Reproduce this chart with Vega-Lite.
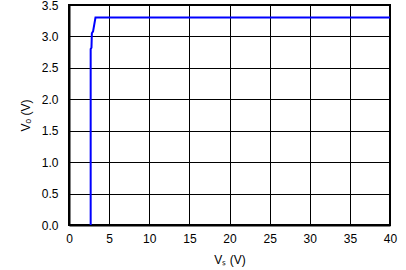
{
  "$schema": "https://vega.github.io/schema/vega-lite/v6.json",
  "width": 321,
  "height": 220,
  "autosize": "none",
  "padding": {"left": 69, "top": 5, "right": 16, "bottom": 45},
  "background": "white",
  "config": {
    "view": {"stroke": "black", "strokeWidth": 2},
    "axis": {
      "labelFont": "Liberation Sans",
      "titleFont": "Liberation Sans",
      "labelFontSize": 12,
      "titleFontSize": 12,
      "labelColor": "black",
      "titleColor": "black",
      "titleFontWeight": "normal",
      "gridColor": "black",
      "gridOpacity": 1,
      "gridWidth": 1,
      "domainColor": "black",
      "domainWidth": 2,
      "ticks": false,
      "labelFlush": false
    }
  },
  "data": {
    "values": [
      {"vs": 2.7, "vo": 0},
      {"vs": 2.7, "vo": 2.8},
      {"vs": 2.8, "vo": 2.82},
      {"vs": 2.85, "vo": 3.05},
      {"vs": 3.0, "vo": 3.08},
      {"vs": 3.3, "vo": 3.3},
      {"vs": 40, "vo": 3.3}
    ]
  },
  "mark": {"type": "line", "color": "#0000ff", "strokeWidth": 2, "clip": true},
  "encoding": {
    "x": {
      "field": "vs", "type": "quantitative",
      "scale": {"domain": [0, 40], "nice": false},
      "axis": {"values": [0,5,10,15,20,25,30,35,40], "title": "Vₛ (V)", "labelPadding": 8, "titlePadding": 10}
    },
    "y": {
      "field": "vo", "type": "quantitative",
      "scale": {"domain": [0, 3.5], "nice": false},
      "axis": {"values": [0,0.5,1,1.5,2,2.5,3,3.5], "format": ".1f", "title": "Vₒ (V)", "labelPadding": 11, "titlePadding": 9}
    },
    "order": {"field": "vs"}
  }
}
